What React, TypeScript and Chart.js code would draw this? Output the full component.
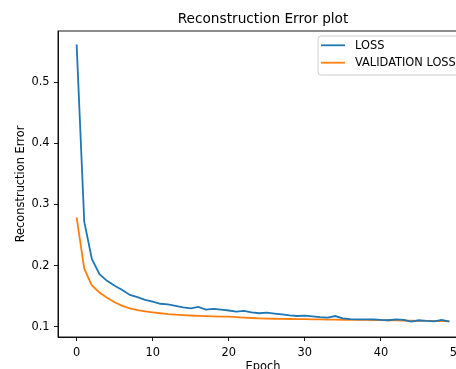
import React, { useEffect, useRef } from "react";
import { Chart, registerables } from "chart.js";

Chart.register(...registerables);

const chartTitle = "Reconstruction Error plot";
const xAxisLabel = "Epoch";
const yAxisLabel = "Reconstruction Error";
const seriesNames = ["LOSS", "VALIDATION LOSS"];
const seriesColors = ["#1f77b4", "#ff7f0e"];

const epochs = [
  0, 1, 2, 3, 4, 5, 6, 7, 8, 9, 10, 11, 12, 13, 14, 15, 16, 17, 18, 19, 20, 21, 22, 23, 24,
  25, 26, 27, 28, 29, 30, 31, 32, 33, 34, 35, 36, 37, 38, 39, 40, 41, 42, 43, 44, 45, 46, 47, 48, 49,
];

const lossValues = [
  0.562, 0.272, 0.211, 0.186, 0.175, 0.167, 0.16, 0.152, 0.1485, 0.144,
  0.141, 0.1375, 0.1365, 0.134, 0.1315, 0.13, 0.1325, 0.128, 0.129, 0.128,
  0.1265, 0.1245, 0.126, 0.1235, 0.122, 0.123, 0.1215, 0.12, 0.1185, 0.1175,
  0.118, 0.117, 0.1157, 0.1147, 0.1174, 0.1135, 0.1125, 0.112, 0.1118, 0.112,
  0.111, 0.1105, 0.112, 0.111, 0.1082, 0.1105, 0.1095, 0.1088, 0.111, 0.1082,
];

const valLossValues = [
  0.279, 0.195, 0.1675, 0.156, 0.1475, 0.14, 0.134, 0.13, 0.127, 0.125,
  0.1235, 0.122, 0.1205, 0.1198, 0.119, 0.1183, 0.1178, 0.1172, 0.1168, 0.1165,
  0.1163, 0.1155, 0.1148, 0.1142, 0.1136, 0.1132, 0.113, 0.1128, 0.1126, 0.1124,
  0.1122, 0.112, 0.1118, 0.1116, 0.1115, 0.1113, 0.1112, 0.1111, 0.111, 0.1109,
  0.1107, 0.1105, 0.1103, 0.11, 0.1097, 0.1095, 0.1094, 0.1093, 0.1092, 0.109,
];

const xTickValues = [0, 10, 20, 30, 40, 50];
const yTickValues = [0.1, 0.2, 0.3, 0.4, 0.5];

const FONT = "'DejaVu Sans', sans-serif";

const framePlugin = {
  id: "frameAndExtras",
  afterDraw(chart: any) {
    const { ctx, chartArea } = chart;
    const { left, right, top, bottom } = chartArea;
    ctx.save();
    // spines
    ctx.strokeStyle = "#000";
    ctx.lineWidth = 0.9;
    ctx.strokeRect(left, top, right - left, bottom - top);
    // title
    ctx.fillStyle = "#000";
    ctx.font = `13.7px ${FONT}`;
    ctx.textAlign = "center";
    ctx.textBaseline = "middle";
    ctx.fillText(chartTitle, (left + right) / 2, 19.5);
    // legend
    const bx = right - 150;
    const by = top + 5;
    const bw = 145;
    const bh = 39;
    const r = 3;
    ctx.beginPath();
    ctx.moveTo(bx + r, by);
    ctx.lineTo(bx + bw - r, by);
    ctx.arcTo(bx + bw, by, bx + bw, by + r, r);
    ctx.lineTo(bx + bw, by + bh - r);
    ctx.arcTo(bx + bw, by + bh, bx + bw - r, by + bh, r);
    ctx.lineTo(bx + r, by + bh);
    ctx.arcTo(bx, by + bh, bx, by + bh - r, r);
    ctx.lineTo(bx, by + r);
    ctx.arcTo(bx, by, bx + r, by, r);
    ctx.closePath();
    ctx.fillStyle = "rgba(255,255,255,0.8)";
    ctx.fill();
    ctx.strokeStyle = "#cccccc";
    ctx.lineWidth = 1;
    ctx.stroke();
    ctx.font = `11.4px ${FONT}`;
    ctx.textAlign = "left";
    ctx.textBaseline = "middle";
    chart.data.datasets.forEach((ds: any, i: number) => {
      const yy = by + 9.3 + i * 17.4;
      ctx.strokeStyle = ds.borderColor;
      ctx.lineWidth = 1.8;
      ctx.beginPath();
      ctx.moveTo(bx + 3, yy);
      ctx.lineTo(bx + 27, yy);
      ctx.stroke();
      ctx.fillStyle = "#000";
      ctx.fillText(ds.label, bx + 37, yy + 0.5);
    });
    ctx.restore();
  },
};

export default function App() {
  const canvasRef = useRef<HTMLCanvasElement | null>(null);

  useEffect(() => {
    const canvas = canvasRef.current;
    if (!canvas) return;
    const chart = new Chart(canvas, {
      type: "line",
      data: {
        datasets: [
          {
            label: seriesNames[0],
            data: epochs.map((e, i) => ({ x: e, y: lossValues[i] })),
            borderColor: seriesColors[0],
            backgroundColor: seriesColors[0],
            borderWidth: 1.8,
            pointRadius: 0,
            tension: 0,
          },
          {
            label: seriesNames[1],
            data: epochs.map((e, i) => ({ x: e, y: valLossValues[i] })),
            borderColor: seriesColors[1],
            backgroundColor: seriesColors[1],
            borderWidth: 1.8,
            pointRadius: 0,
            tension: 0,
          },
        ],
      },
      options: {
        animation: false,
        responsive: false,
        maintainAspectRatio: false,
        layout: { padding: { top: 31, right: 22, left: 0, bottom: 0 } },
        plugins: {
          legend: { display: false },
          title: { display: false },
          tooltip: { enabled: false },
        },
        scales: {
          x: {
            type: "linear",
            min: -2.45,
            max: 51.45,
            afterBuildTicks: (scale: any) => {
              scale.ticks = xTickValues.map((v) => ({ value: v }));
            },
            afterFit: (scale: any) => {
              scale.height = 53;
            },
            grid: {
              display: true,
              drawOnChartArea: false,
              drawTicks: true,
              tickLength: 4,
              color: "#000",
              lineWidth: 0.9,
            },
            border: { display: true, color: "#000", width: 0.9 },
            ticks: {
              color: "#000",
              font: { family: FONT, size: 11.4 },
              padding: 5,
              maxRotation: 0,
              autoSkip: false,
              callback: (v: any) => String(v),
            },
            title: {
              display: true,
              text: xAxisLabel,
              color: "#000",
              font: { family: FONT, size: 11.4 },
              padding: { top: 0, bottom: 16.5 },
            },
          },
          y: {
            type: "linear",
            min: 0.0831,
            max: 0.584,
            afterBuildTicks: (scale: any) => {
              scale.ticks = yTickValues.map((v) => ({ value: v }));
            },
            afterFit: (scale: any) => {
              scale.width = 58;
            },
            grid: {
              display: true,
              drawOnChartArea: false,
              drawTicks: true,
              tickLength: 4,
              color: "#000",
              lineWidth: 0.9,
            },
            border: { display: true, color: "#000", width: 0.9 },
            ticks: {
              color: "#000",
              font: { family: FONT, size: 11.4 },
              padding: 4.5,
              autoSkip: false,
              callback: (v: any) => Number(v).toFixed(1),
            },
            title: {
              display: true,
              text: yAxisLabel,
              color: "#000",
              font: { family: FONT, size: 11.4 },
              padding: { top: 14, bottom: 0 },
            },
          },
        },
      },
      plugins: [framePlugin],
    });
    return () => chart.destroy();
  }, []);

  return (
    <div
      style={{
        position: "fixed",
        left: 0,
        top: 0,
        width: 456,
        height: 369,
        overflow: "hidden",
        background: "#fff",
      }}
    >
      <canvas
        ref={canvasRef}
        width={490}
        height={390}
        style={{ width: 490, height: 390, display: "block" }}
      />
    </div>
  );
}
